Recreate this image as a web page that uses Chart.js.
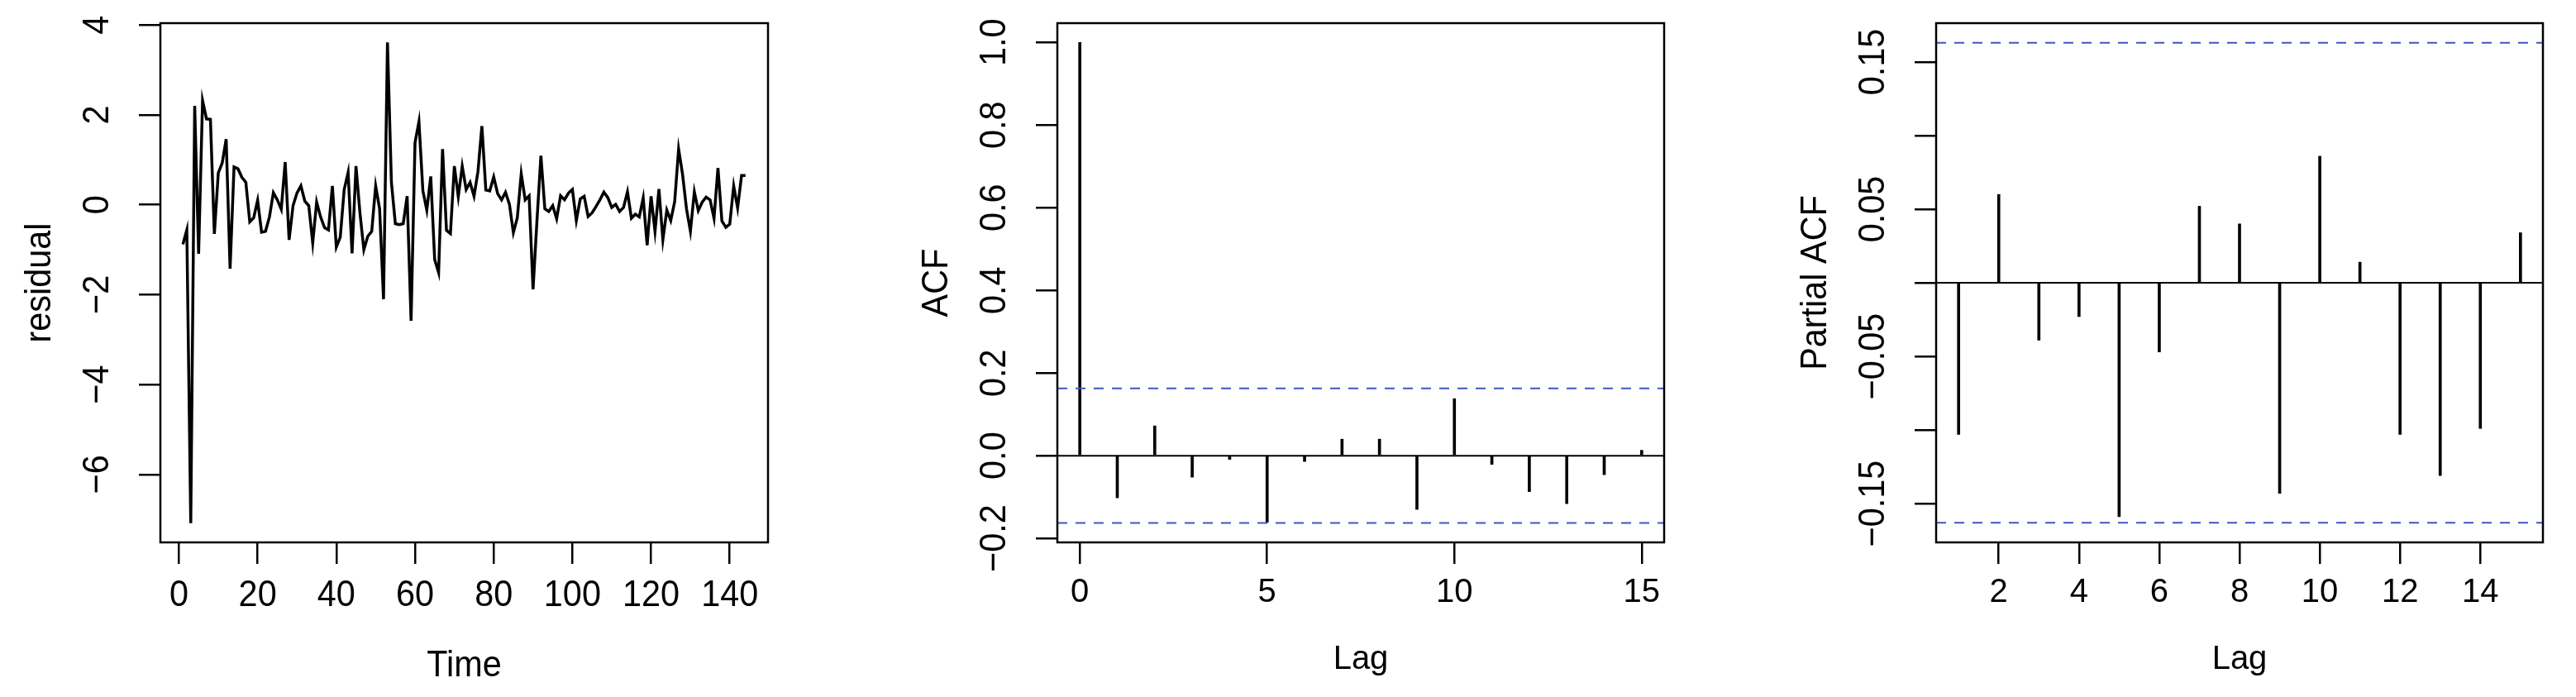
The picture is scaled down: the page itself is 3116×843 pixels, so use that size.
<!DOCTYPE html>
<html>
<head>
<meta charset="utf-8">
<script src="https://cdn.jsdelivr.net/npm/chart.js@4.4.1/dist/chart.umd.min.js"></script>
<style>
  html, body { margin: 0; padding: 0; background: #fff; }
  body { width: 3116px; height: 843px; position: relative; overflow: hidden; }
  canvas { position: absolute; top: 0; }
</style>
</head>
<body>
<canvas id="residualChart" width="1039" height="843" style="left:0px"></canvas>
<canvas id="acfChart" width="1039" height="843" style="left:1039px"></canvas>
<canvas id="pacfChart" width="1038" height="843" style="left:2078px"></canvas>
<script>
//DATOS
const residualValues = [
    -0.88, -0.56, -7.08, 2.20, -1.09, 2.32, 1.91, 1.90, -0.65, 0.71, 0.93, 1.46,
    -1.42, 0.84, 0.80, 0.61, 0.50, -0.38, -0.29, 0.10, -0.61, -0.59, -0.27, 0.27,
    0.11, -0.10, 0.95, -0.78, -0.02, 0.26, 0.42, 0.08, -0.02, -0.85, 0.06, -0.27,
    -0.51, -0.56, 0.42, -0.94, -0.72, 0.34, 0.72, -1.08, 0.86, -0.18, -1.00, -0.70,
    -0.59, 0.42, -0.09, -2.10, 3.61, 0.50, -0.42, -0.44, -0.42, 0.19, -2.58, 1.38,
    1.85, 0.31, -0.12, 0.63, -1.22, -1.51, 1.24, -0.57, -0.64, 0.86, 0.18, 0.86,
    0.34, 0.50, 0.19, 0.74, 1.75, 0.33, 0.31, 0.62, 0.25, 0.11, 0.28, 0.01,
    -0.62, -0.29, 0.69, 0.11, 0.20, -1.88, -0.35, 1.09, -0.09, -0.15, -0.02, -0.31,
    0.20, 0.11, 0.26, 0.34, -0.35, 0.13, 0.19, -0.26, -0.18, -0.04, 0.11, 0.28,
    0.16, -0.06, 0.01, -0.15, -0.06, 0.29, -0.30, -0.21, -0.27, 0.15, -0.90, 0.19,
    -0.59, 0.35, -0.78, -0.12, -0.35, 0.07, 1.24, 0.68, -0.09, -0.59, 0.29, -0.13,
    0.06, 0.17, 0.11, -0.30, 0.82, -0.36, -0.50, -0.43, 0.42, -0.07, 0.65, 0.65
];
const residualXTicks = [0, 20, 40, 60, 80, 100, 120, 140];
const residualXLabels = ['0', '20', '40', '60', '80', '100', '120', '140'];
const residualYTicks = [-6, -4, -2, 0, 2, 4];
const residualYLabels = ['\u22126', '\u22124', '\u22122', '0', '2', '4'];

const acfLags = [0, 1, 2, 3, 4, 5, 6, 7, 8, 9, 10, 11, 12, 13, 14, 15];
const acfValues = [1.0, -0.102, 0.072, -0.052, -0.009, -0.161, -0.014, 0.040, 0.040, -0.130, 0.138, -0.021, -0.087, -0.116, -0.046, 0.013];
const acfXTicks = [0, 5, 10, 15];
const acfXLabels = ['0', '5', '10', '15'];
const acfYTicks = [-0.2, 0, 0.2, 0.4, 0.6, 0.8, 1.0];
const acfYLabels = ['\u22120.2', '0.0', '0.2', '0.4', '0.6', '0.8', '1.0'];

const pacfLags = [1, 2, 3, 4, 5, 6, 7, 8, 9, 10, 11, 12, 13, 14, 15];
const pacfValues = [-0.103, 0.060, -0.039, -0.023, -0.159, -0.047, 0.052, 0.040, -0.143, 0.086, 0.014, -0.103, -0.131, -0.099, 0.034];
const pacfXTicks = [2, 4, 6, 8, 10, 12, 14];
const pacfXLabels = ['2', '4', '6', '8', '10', '12', '14'];
const pacfYTicks = [-0.15, -0.10, -0.05, 0, 0.05, 0.10, 0.15];
const pacfYLabels = ['\u22120.15', '', '\u22120.05', '', '0.05', '', '0.15'];

// limite de confianza (linea azul)
const ciBound = 0.163;

const SANS = "'Liberation Sans', Arial, sans-serif";
const CI_COLOR = '#3d56c6';
const SQUEEZE = 0.92;   // texto algo estrecho como en el original

function drawText(ctx, text, x, y, rotated) {
    ctx.save();
    ctx.translate(x, y);
    if (rotated) ctx.rotate(-Math.PI / 2);
    ctx.scale(SQUEEZE, 1);
    ctx.fillText(text, 0, 0);
    ctx.restore();
}

//PLUGIN: caja + etiquetas (giradas como en R)
const rAxisPlugin = {
    id: 'rAxis',
    afterDraw(chart, args, opts) {
        const {ctx, chartArea} = chart;
        const y = chart.scales.y;
        const x = chart.scales.x;
        ctx.save();
        ctx.strokeStyle = '#000';
        ctx.lineWidth = 2.5;
        ctx.strokeRect(chartArea.left, chartArea.top, chartArea.right - chartArea.left, chartArea.bottom - chartArea.top);

        ctx.fillStyle = '#000';
        ctx.font = '45px ' + SANS;
        ctx.textAlign = 'center';
        ctx.textBaseline = 'alphabetic';
        opts.ticks.forEach((v, i) => {
            drawText(ctx, opts.labels[i], chartArea.left - 63, y.getPixelForValue(v), true);
        });
        drawText(ctx, opts.title, chartArea.left - 133, (chartArea.top + chartArea.bottom) / 2, true);

        if (opts.xTicks) {
            opts.xTicks.forEach((v, i) => {
                drawText(ctx, opts.xLabels[i], x.getPixelForValue(v), 733, false);
            });
            drawText(ctx, opts.xTitle, (chartArea.left + chartArea.right) / 2, 818, false);
        }
        ctx.restore();
    }
};

function makeChart(id, cfg) {
    const ctx = document.getElementById(id).getContext('2d');
    return new Chart(ctx, {
        type: cfg.type,
        data: { datasets: cfg.datasets },
        plugins: [rAxisPlugin],
        options: {
            responsive: false,
            animation: false,
            events: [],
            layout: { padding: { left: 0, right: cfg.padRight, top: 28, bottom: 0 } },
            plugins: {
                legend: { display: false },
                tooltip: { enabled: false },
                rAxis: {
                    ticks: cfg.yTicks, labels: cfg.yLabels, title: cfg.yTitle,
                    xTicks: cfg.ownX ? cfg.xTicks : null, xLabels: cfg.xLabels, xTitle: cfg.xTitle
                }
            },
            scales: {
                x: {
                    type: 'linear',
                    min: cfg.xMin,
                    max: cfg.xMax,
                    offset: false,
                    afterBuildTicks: s => { s.ticks = cfg.xTicks.map(v => ({ value: v })); },
                    afterFit: s => { s.height = 187; },
                    grid: { drawOnChartArea: false, drawTicks: true, tickLength: 26, color: '#000', lineWidth: 2.5, offset: false },
                    border: { display: false },
                    ticks: {
                        display: !cfg.ownX,
                        color: '#000',
                        padding: 11,
                        maxRotation: 0,
                        autoSkip: false,
                        font: { family: SANS, size: 40, lineHeight: 1.2 },
                        callback: (v, i) => cfg.xLabels[i]
                    },
                    title: {
                        display: !cfg.ownX,
                        text: cfg.xTitle,
                        color: '#000',
                        font: { family: SANS, size: 40, lineHeight: 1.2 },
                        padding: { top: 0, bottom: 21 }
                    }
                },
                y: {
                    type: 'linear',
                    min: cfg.yMin,
                    max: cfg.yMax,
                    afterBuildTicks: s => { s.ticks = cfg.yTicks.map(v => ({ value: v })); },
                    afterFit: s => { s.width = cfg.boxLeft; },
                    grid: { drawOnChartArea: false, drawTicks: true, tickLength: 26, color: '#000', lineWidth: 2.5 },
                    border: { display: false },
                    ticks: { display: false }
                }
            }
        }
    });
}

function hLine(y, x0, x1, color, dash, width) {
    return {
        type: 'line',
        data: [{ x: x0, y: y }, { x: x1, y: y }],
        borderColor: color,
        borderWidth: width,
        borderDash: dash,
        pointRadius: 0,
        fill: false
    };
}

//GRAFICA 1: residuos
makeChart('residualChart', {
    type: 'line',
    ownX: true,
    boxLeft: 194, padRight: 110,
    xMin: -4.72, xMax: 149.72, yMin: -7.51, yMax: 4.04,
    xTicks: residualXTicks, xLabels: residualXLabels,
    yTicks: residualYTicks, yLabels: residualYLabels,
    xTitle: 'Time', yTitle: 'residual',
    datasets: [{
        data: residualValues.map((v, i) => ({ x: i + 1, y: v })),
        borderColor: '#000',
        borderWidth: 3.5,
        pointRadius: 0,
        tension: 0,
        fill: false
    }]
});

//GRAFICA 2: ACF
makeChart('acfChart', {
    type: 'bar',
    boxLeft: 240, padRight: 65,
    xMin: -0.6, xMax: 15.6, yMin: -0.2098, yMax: 1.0465,
    xTicks: acfXTicks, xLabels: acfXLabels,
    yTicks: acfYTicks, yLabels: acfYLabels,
    xTitle: 'Lag', yTitle: 'ACF',
    datasets: [
        hLine(ciBound, -0.6, 15.6, CI_COLOR, [12, 10], 2),
        hLine(-ciBound, -0.6, 15.6, CI_COLOR, [12, 10], 2),
        hLine(0, -0.6, 15.6, '#000', [], 2),
        {
            type: 'bar',
            data: acfLags.map((l, i) => ({ x: l, y: acfValues[i] })),
            backgroundColor: '#000',
            borderWidth: 0,
            barThickness: 3
        }
    ]
});

//GRAFICA 3: PACF
makeChart('pacfChart', {
    type: 'bar',
    boxLeft: 264, padRight: 40,
    xMin: 0.44, xMax: 15.56, yMin: -0.1764, yMax: 0.1764,
    xTicks: pacfXTicks, xLabels: pacfXLabels,
    yTicks: pacfYTicks, yLabels: pacfYLabels,
    xTitle: 'Lag', yTitle: 'Partial ACF',
    datasets: [
        hLine(ciBound, 0.44, 15.56, CI_COLOR, [12, 10], 2),
        hLine(-ciBound, 0.44, 15.56, CI_COLOR, [12, 10], 2),
        hLine(0, 0.44, 15.56, '#000', [], 2),
        {
            type: 'bar',
            data: pacfLags.map((l, i) => ({ x: l, y: pacfValues[i] })),
            backgroundColor: '#000',
            borderWidth: 0,
            barThickness: 3
        }
    ]
});
</script>
</body>
</html>
